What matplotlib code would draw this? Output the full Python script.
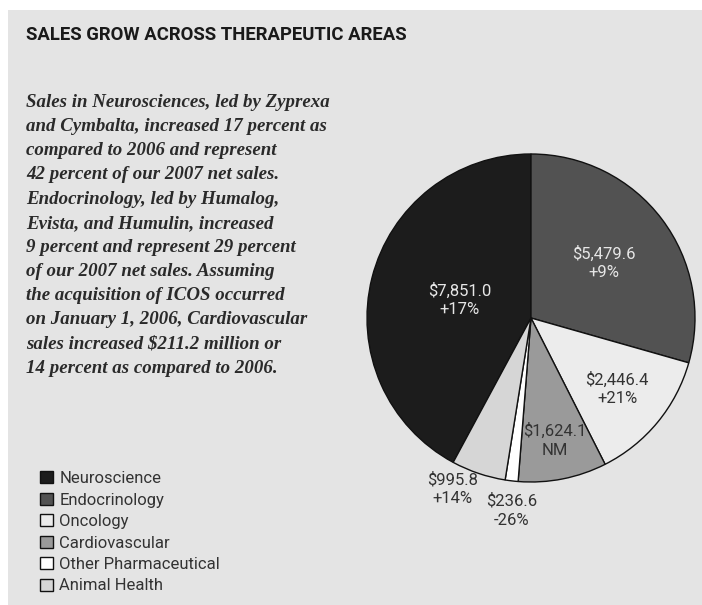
import matplotlib.pyplot as plt
import numpy as np
from matplotlib.patches import Rectangle

# 2007 sales by therapeutic area ($ millions) and growth vs 2006
areas = ['Neuroscience', 'Endocrinology', 'Oncology', 'Cardiovascular',
         'Other Pharmaceutical', 'Animal Health']
sales = [7851.0, 5479.6, 2446.4, 1624.1, 236.6, 995.8]
growth = ['+17%', '+9%', '+21%', 'NM', '-26%', '+14%']
colors = ['#1c1c1c', '#525252', '#ececec', '#9a9a9a', '#ffffff', '#d6d6d6']
label_colors = ['#e6e6e6', '#e6e6e6', '#333333', '#333333', '#333333', '#333333']
label_dist = [0.45, 0.56, 0.68, 0.76, 1.18, 1.15]
label_shift = [0, 0, 0, 0, 1, -6]   # degrees

body = ("Sales in Neurosciences, led by Zyprexa\n"
        "and Cymbalta, increased 17 percent as\n"
        "compared to 2006 and represent\n"
        "42 percent of our 2007 net sales.\n"
        "Endocrinology, led by Humalog,\n"
        "Evista, and Humulin, increased\n"
        "9 percent and represent 29 percent\n"
        "of our 2007 net sales. Assuming\n"
        "the acquisition of ICOS occurred\n"
        "on January 1, 2006, Cardiovascular\n"
        "sales increased $211.2 million or\n"
        "14 percent as compared to 2006.")

W, H = 702, 605
fig = plt.figure(figsize=(W / 100, H / 100), dpi=100)
fig.patch.set_facecolor('white')
fig.patches.append(Rectangle((8 / W, 0), 1, 1 - 10 / H, transform=fig.transFigure,
                             facecolor='#e4e4e4', edgecolor='none', zorder=-1))

fig.text(26 / W, 1 - 35 / H, 'SALES GROW ACROSS THERAPEUTIC AREAS',
         fontfamily='Roboto', fontweight='bold', fontsize=13.3, color='#1a1a1a',
         va='center', ha='left')
fig.text(26 / W, 1 - 94 / H, body, fontfamily='Liberation Serif',
         fontstyle='italic', fontweight='bold', fontsize=13.6, color='#2a2a2a',
         va='top', ha='left', linespacing=1.55)

# pie axes: centre (531, 318) px, radius 164 px
cx, cy, r = 531, 318, 164
ax = fig.add_axes([(cx - r) / W, (H - cy - r) / H, 2 * r / W, 2 * r / H])
start = 90 + 360 * sales[0] / sum(sales)
wedges, _ = ax.pie(sales, colors=colors, startangle=start, counterclock=False,
                   wedgeprops=dict(edgecolor='#111111', linewidth=1.0))
ax.set_xlim(-1, 1)
ax.set_ylim(-1, 1)
ax.set_aspect('equal')
ax.axis('off')

for w, v, g, c, d, s in zip(wedges, sales, growth, label_colors, label_dist, label_shift):
    ang = np.deg2rad((w.theta1 + w.theta2) / 2 + s)
    ax.text(d * np.cos(ang), d * np.sin(ang), f'${v:,.1f}\n{g}',
            ha='center', va='center', fontfamily='Roboto', fontsize=12,
            color=c, linespacing=1.3, clip_on=False)

fig.legend(wedges, areas, loc='upper left', bbox_to_anchor=(40 / W, 1 - 471 / H),
           frameon=False, prop=dict(family='Roboto', size=12),
           handlelength=0.75, handleheight=0.75, handletextpad=0.4,
           labelspacing=0.39, borderaxespad=0, borderpad=0, labelcolor='#333333')

fig.savefig('out.png', dpi=100, facecolor=fig.get_facecolor())
